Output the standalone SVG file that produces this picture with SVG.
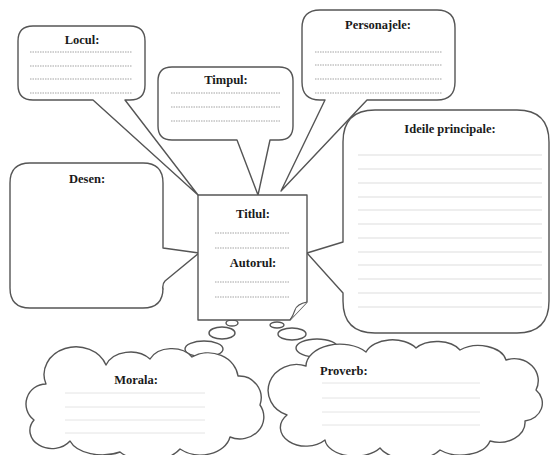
<svg xmlns="http://www.w3.org/2000/svg" width="551" height="455" viewBox="0 0 551 455">
<defs>
<style>
.box{fill:#fff;stroke:#555;stroke-width:1.4;stroke-linejoin:round}
.t{font-family:"Liberation Serif","DejaVu Serif","Times New Roman",serif;font-weight:bold;font-size:12.5px;fill:#1a1a1a}
.dl{stroke:#999;stroke-width:0.9;stroke-dasharray:1.5 1}
.ll{stroke:#ddd;stroke-width:1}
.cl{stroke:#e4e4e4;stroke-width:1}
</style>
</defs>
<rect width="551" height="455" fill="#fff"/>
<g id="connectors">
<ellipse class="box" cx="232" cy="323" rx="6" ry="3"/>
<ellipse class="box" cx="222" cy="333" rx="13" ry="6"/>
<ellipse class="box" cx="204" cy="349" rx="19" ry="8"/>
<ellipse class="box" cx="277" cy="325" rx="7" ry="3"/>
<ellipse class="box" cx="292" cy="334" rx="14" ry="6"/>
<ellipse class="box" cx="317" cy="348" rx="21" ry="9"/>
</g>
<g id="locul">
<path class="box" d="M33 26 H130 Q145 26 145 41 V85 Q145 100 130 100 H125 L198 195 L93 100 H33 Q18 100 18 85 V41 Q18 26 33 26 Z"/>
<text class="t" x="82" y="44" text-anchor="middle">Locul:</text>
<line class="dl" x1="30" y1="52" x2="132" y2="52"/>
<line class="dl" x1="30" y1="66" x2="132" y2="66"/>
<line class="dl" x1="30" y1="79" x2="132" y2="79"/>
<line class="dl" x1="30" y1="93" x2="132" y2="93"/>
</g>
<g id="timpul">
<path class="box" d="M172 67 H279 Q293 67 293 81 V126 Q293 140 279 140 H270 L258 195 L237 140 H172 Q158 140 158 126 V81 Q158 67 172 67 Z"/>
<text class="t" x="226" y="84" text-anchor="middle">Timpul:</text>
<line class="dl" x1="171" y1="93" x2="280" y2="93"/>
<line class="dl" x1="171" y1="107" x2="280" y2="107"/>
<line class="dl" x1="171" y1="121" x2="280" y2="121"/>
</g>
<g id="personajele">
<path class="box" d="M320 10 H437 Q455 10 455 28 V82 Q455 100 437 100 H367 L281 191 L325 100 H320 Q302 100 302 82 V28 Q302 10 320 10 Z"/>
<text class="t" x="378" y="29" text-anchor="middle">Personajele:</text>
<line class="dl" x1="315" y1="52" x2="442" y2="52"/>
<line class="dl" x1="315" y1="65" x2="442" y2="65"/>
<line class="dl" x1="315" y1="79" x2="442" y2="79"/>
<line class="dl" x1="315" y1="93" x2="442" y2="93"/>
</g>
<g id="ideile">
<path class="box" d="M375 110 H517 Q549 110 549 142 V301 Q549 333 517 333 H375 Q343 333 343 301 V293 L307 253 L343 242 V142 Q343 110 375 110 Z"/>
<text class="t" x="450" y="133" text-anchor="middle">Ideile principale:</text>
<g class="ll">
<line x1="358" y1="155" x2="542" y2="155"/>
<line x1="358" y1="169" x2="542" y2="169"/>
<line x1="358" y1="183" x2="542" y2="183"/>
<line x1="358" y1="197" x2="542" y2="197"/>
<line x1="358" y1="210" x2="542" y2="210"/>
<line x1="358" y1="224" x2="542" y2="224"/>
<line x1="358" y1="238" x2="542" y2="238"/>
<line x1="358" y1="252" x2="542" y2="252"/>
<line x1="358" y1="265" x2="542" y2="265"/>
<line x1="358" y1="279" x2="542" y2="279"/>
<line x1="358" y1="293" x2="542" y2="293"/>
<line x1="358" y1="307" x2="542" y2="307"/>
</g>
</g>
<g id="desen">
<path class="box" d="M30 163 H143 Q163 163 163 183 V248 L199 253 L165 281 Q162 284 163 290 V288 Q163 308 143 308 H30 Q10 308 10 288 V183 Q10 163 30 163 Z"/>
<text class="t" x="87" y="183" text-anchor="middle">Desen:</text>
</g>
<g id="document">
<path class="box" d="M198 195 H307 V302 L290 320 H198 Z"/>
<path fill="#fff" stroke="#555" stroke-width="1.1" d="M307 302 Q297 304 295 310 Q293 316 290 320"/>
<text class="t" x="253" y="218" text-anchor="middle">Titlul:</text>
<line class="dl" x1="215" y1="233" x2="290" y2="233"/>
<line class="dl" x1="215" y1="248" x2="290" y2="248"/>
<text class="t" x="253" y="267" text-anchor="middle">Autorul:</text>
<line class="dl" x1="215" y1="282" x2="290" y2="282"/>
<line class="dl" x1="215" y1="297" x2="290" y2="297"/>
</g>
<g id="morala">
<path class="box" d="M34 420 A20 20 0 0 1 46 384 A30 26 0 0 1 106 365 A26 20 0 0 1 150 359 A24 18 0 0 1 192 357 A30 26 0 0 1 238 376 A22 22 0 0 1 260 405 A24 22 0 0 1 230 437 A30 22 0 0 1 180 449 A36 22 0 0 1 120 452 A34 20 0 0 1 70 441 A22 18 0 0 1 34 420 Z"/>
<text class="t" x="136" y="384" text-anchor="middle">Morala:</text>
<g class="cl">
<line x1="65" y1="393" x2="205" y2="393"/>
<line x1="65" y1="407" x2="205" y2="407"/>
<line x1="65" y1="420" x2="205" y2="420"/>
<line x1="65" y1="433" x2="205" y2="433"/>
</g>
</g>
<g id="proverb">
<path class="box" d="M287 415 A24 22 0 0 1 306 366 A34 22 0 0 1 366 352 A28 18 0 0 1 416 348 A26 16 0 0 1 460 350 A28 18 0 0 1 506 360 A24 22 0 0 1 536 390 A20 18 0 0 1 525 421 A26 20 0 0 1 490 441 A30 18 0 0 1 440 450 A34 20 0 0 1 380 448 A30 18 0 0 1 325 440 A22 16 0 0 1 287 415 Z"/>
<text class="t" x="320" y="375">Proverb:</text>
<g class="cl">
<line x1="322" y1="383" x2="480" y2="383"/>
<line x1="322" y1="398" x2="480" y2="398"/>
<line x1="322" y1="412" x2="480" y2="412"/>
<line x1="322" y1="425" x2="480" y2="425"/>
</g>
</g>
</svg>
